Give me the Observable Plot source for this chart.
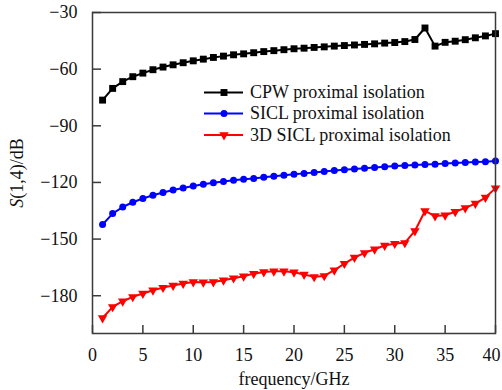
<!DOCTYPE html>
<html><head><meta charset="utf-8">
<script src="https://cdn.jsdelivr.net/npm/d3@7"></script>
<script src="https://cdn.jsdelivr.net/npm/@observablehq/plot@0.6"></script>
<style>body{margin:0;background:#fff}</style>
</head><body><div id="chart"></div>
<script>
const freq = [1,2,3,4,5,6,7,8,9,10,11,12,13,14,15,16,17,18,19,20,21,22,23,24,25,26,27,28,29,30,31,32,33,34,35,36,37,38,39,40];
const cpw = [-76.4,-70.2,-66.6,-64.0,-62.1,-60.3,-58.9,-57.7,-56.6,-55.6,-54.7,-53.8,-53.1,-52.4,-51.9,-51.3,-50.7,-50.2,-49.7,-49.2,-48.9,-48.5,-48.2,-47.8,-47.5,-47.2,-46.9,-46.6,-46.2,-45.9,-45.4,-44.3,-38.2,-47.8,-45.8,-45.2,-44.4,-43.4,-42.4,-41.2];
const sicl = [-142.3,-136.5,-133.0,-130.5,-128.5,-126.8,-125.3,-124.0,-122.9,-121.9,-121.0,-120.2,-119.5,-118.9,-118.3,-117.9,-117.3,-116.7,-116.2,-115.7,-115.2,-114.7,-114.2,-113.7,-113.3,-112.9,-112.5,-112.1,-111.7,-111.3,-111.0,-110.8,-110.5,-110.3,-110.0,-109.7,-109.5,-109.2,-109.0,-108.7];
const sicl3d = [-191.8,-185.9,-182.9,-180.6,-178.8,-177.1,-175.7,-174.6,-173.5,-172.7,-172.9,-172.7,-171.8,-170.7,-169.7,-168.3,-167.4,-167.0,-167.0,-167.6,-168.8,-170.0,-169.5,-166.5,-163.0,-159.8,-157.3,-155.4,-153.4,-152.4,-152.0,-145.7,-135.1,-137.8,-137.4,-135.5,-133.5,-131.2,-128.0,-123.0];
const seriesNames = ["CPW proximal isolation", "SICL proximal isolation", "3D SICL proximal isolation"];
const seriesColors = ["#000000", "#0000ff", "#ff0000"];
const xTicks = [0,5,10,15,20,25,30,35,40];
const yTicks = [-30,-60,-90,-120,-150,-180];

const triDown = {
  draw(ctx, size) {
    const a = Math.sqrt(4 * size / Math.sqrt(3));
    const h = a * Math.sqrt(3) / 2;
    ctx.moveTo(0, 2 * h / 3);
    ctx.lineTo(-a / 2, -h / 3);
    ctx.lineTo(a / 2, -h / 3);
    ctx.closePath();
  }
};
const symbols = [d3.symbolSquare, d3.symbolCircle, triDown];
const radii = [3.9, 3.5, 3.5];

const allValues = [cpw, sicl, sicl3d];
const rows = allValues.map((vals, k) => freq.map((f, i) => ({f, v: vals[i], s: seriesNames[k]})));

const font = "Liberation Serif, Times New Roman, serif";
const axisColor = "#3a3a3a";

const marks = [
  Plot.axisY(yTicks, {tickSize: 0, tickPadding: 15, label: "S(1,4)/dB", labelAnchor: "center", labelOffset: 82, fill: "#111"}),
  Plot.axisY(yTicks, {tickSize: 9, dx: 9, text: null, label: null, stroke: axisColor, strokeWidth: 1.5}),
  Plot.axisX(xTicks, {tickSize: 0, tickPadding: 15, label: "frequency/GHz", labelAnchor: "center", labelOffset: 51, fill: "#111"}),
  Plot.axisX(xTicks, {tickSize: 8, dy: -8, text: null, label: null, stroke: axisColor, strokeWidth: 1.5}),
];
rows.forEach((data, k) => {
  marks.push(Plot.line(data, {x: "f", y: "v", stroke: seriesColors[k], strokeWidth: 2}));
  marks.push(Plot.dot(data, {x: "f", y: "v", fill: seriesColors[k], stroke: "none", symbol: symbols[k], r: radii[k]}));
});
marks.push(Plot.frame({stroke: axisColor, strokeWidth: 1.5}));

const chart = Plot.plot({
  width: 502,
  height: 390,
  marginLeft: 92,
  marginRight: 7,
  marginTop: 12,
  marginBottom: 57,
  style: {fontFamily: font, fontSize: "18px", background: "#fff", color: "#111"},
  x: {domain: [0, 40]},
  y: {domain: [-200, -30]},
  marks
});
document.getElementById("chart").appendChild(chart);

const svg = d3.select(chart);
svg.selectAll("text").each(function() {
  const txt = this.textContent;
  if (txt.indexOf("S(1,4)/dB") >= 0) {
    const t = d3.select(this);
    t.text(null);
    t.append("tspan").attr("font-style", "italic").text("S");
    t.append("tspan").text("(1,4)/dB");
  } else if (txt.indexOf("frequency/GHz") >= 0) {
    d3.select(this).text("frequency/GHz");
  } else if (txt === "40") {
    const t = d3.select(this);
    t.attr("transform", (t.attr("transform") || "") + " translate(-4,0)");
  }
});

// legend
const legendY = [92.5, 113.5, 135];
const lg = svg.append("g").attr("font-family", font).attr("font-size", 18).attr("text-anchor", "start");
seriesNames.forEach((name, k) => {
  const y = legendY[k];
  lg.append("line").attr("x1", 204).attr("x2", 243).attr("y1", y).attr("y2", y)
    .attr("stroke", seriesColors[k]).attr("stroke-width", 2);
  lg.append("path").attr("transform", `translate(224,${y})`)
    .attr("d", d3.symbol(symbols[k], Math.PI * radii[k] * radii[k])())
    .attr("fill", seriesColors[k]);
  lg.append("text").attr("x", 250).attr("y", y).attr("dy", "0.32em").attr("fill", "#111")
    .attr("text-anchor", "start").text(name);
});
</script>
</body></html>
